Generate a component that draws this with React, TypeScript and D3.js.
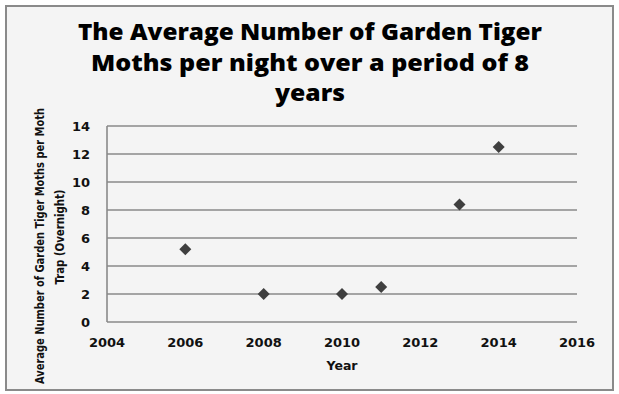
import React from 'react';
import * as d3 from 'd3';

const years = [2006, 2008, 2010, 2011, 2013, 2014];
const moths = [5.2, 2, 2, 2.5, 8.4, 12.5];
const xTicks = [2004, 2006, 2008, 2010, 2012, 2014, 2016];
const yTicks = [0, 2, 4, 6, 8, 10, 12, 14];
const titleLines = [
  'The Average Number of Garden Tiger',
  'Moths  per night over a period of 8',
  'years',
];
const titleWidths = [464, 438, 70];
const yLabelLines = ['Average Number of Garden Tiger Moths per Moth', 'Trap (Overnight)'];

export default function App() {
  const width = 619;
  const height = 394;
  const plot = { left: 107, right: 577, top: 126, bottom: 322 };

  const x = d3.scaleLinear().domain([2004, 2016]).range([plot.left, plot.right]);
  const y = d3.scaleLinear().domain([0, 14]).range([plot.bottom, plot.top]);
  const diamond = d3.symbol().type(d3.symbolSquare).size(72)() as string;

  return (
    <svg
      width={width}
      height={height}
      style={{ position: 'absolute', left: 0, top: 0, background: '#fff' }}
    >
      <rect x={6} y={6} width={607} height={384} fill="#f4f4f4" stroke="#8a8a8a" strokeWidth={2} />

      {titleLines.map((t, i) => (
        <text
          key={i}
          x={310}
          y={40 + i * 30.5}
          textAnchor="middle"
          fontFamily="'Open Sans', Lato, sans-serif"
          fontWeight={800}
          fontSize={23}
          textLength={titleWidths[i]}
          lengthAdjust="spacingAndGlyphs"
          fill="#000"
        >
          {t}
        </text>
      ))}

      {yTicks.map(t => (
        <g key={t}>
          <line x1={plot.left} x2={plot.right} y1={y(t)} y2={y(t)} stroke="#8a8a8a" strokeWidth={1.6} />
          <text
            x={90}
            y={y(t) + 5}
            textAnchor="end"
            fontFamily="'DejaVu Sans', sans-serif"
            fontWeight="bold"
            fontSize={13}
            fill="#111"
          >
            {t}
          </text>
        </g>
      ))}
      <line x1={plot.left} x2={plot.left} y1={plot.top} y2={plot.bottom} stroke="#8a8a8a" strokeWidth={1.6} />

      {xTicks.map(t => (
        <text
          key={t}
          x={x(t)}
          y={347}
          textAnchor="middle"
          fontFamily="'DejaVu Sans', sans-serif"
          fontWeight="bold"
          fontSize={13}
          fill="#111"
        >
          {t}
        </text>
      ))}
      <text
        x={(plot.left + plot.right) / 2}
        y={370}
        textAnchor="middle"
        fontFamily="'DejaVu Sans', sans-serif"
        fontWeight="bold"
        fontSize={12.5}
        fill="#111"
      >
        Year
      </text>

      {yLabelLines.map((t, i) => (
        <text
          key={i}
          transform={`translate(${44 + i * 20},${i === 0 ? 246 : 237}) rotate(-90)`}
          textAnchor="middle"
          fontFamily="'DejaVu Sans Condensed', 'DejaVu Sans', sans-serif"
          fontWeight="bold"
          fontSize={12}
          textLength={i === 0 ? 276 : 95}
          lengthAdjust="spacingAndGlyphs"
          fill="#111"
        >
          {t}
        </text>
      ))}

      {years.map((yr, i) => (
        <path
          key={yr}
          d={diamond}
          transform={`translate(${x(yr)},${y(moths[i])}) rotate(45)`}
          fill="#3f3f3f"
        />
      ))}
    </svg>
  );
}
